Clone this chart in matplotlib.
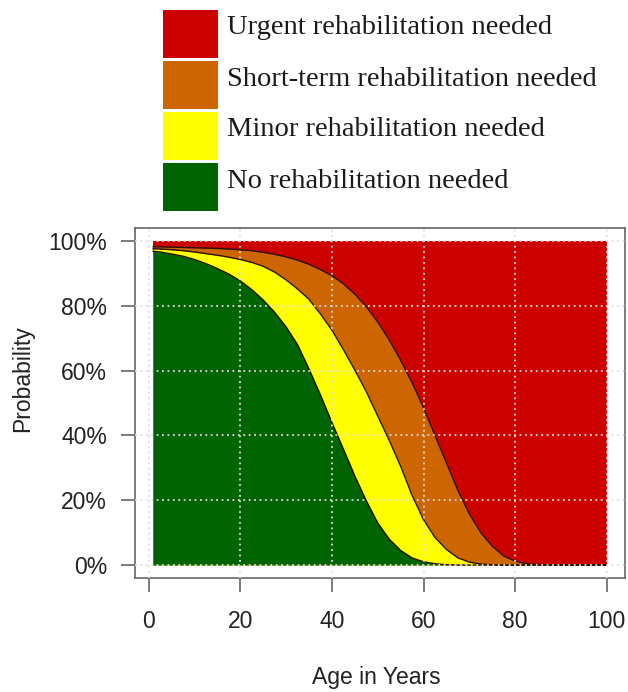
import matplotlib
matplotlib.use("Agg")
import matplotlib.pyplot as plt
from matplotlib.patches import Rectangle

# ---- data ----
ages = [1, 2.5, 5, 7.5, 10, 12.5, 15, 17.5, 20, 22.5, 25, 27.5, 30, 32.5, 35, 37.5, 40,
        42.5, 45, 47.5, 50, 52.5, 55, 57.5, 60, 62.5, 65, 67.5, 70, 72.5, 75, 77.5, 80,
        82.5, 85, 87.5, 90, 92.5, 95, 97.5, 100]
# cumulative probability: no rehabilitation needed
no_rehab = [96.8, 96.6, 96.0, 95.3, 94.3, 93.0, 91.5, 89.8, 87.7, 85.0, 81.8, 78.0, 73.5,
            68.0, 60.5, 52.5, 44.0, 35.8, 27.5, 19.8, 13.0, 8.0, 4.5, 2.2, 1.0, 0.4, 0.1,
            0, 0, 0, 0, 0, 0, 0, 0, 0, 0, 0, 0, 0, 0]
# cumulative: no + minor rehabilitation
minor_cum = [97.6, 97.5, 97.3, 97.0, 96.6, 96.1, 95.6, 95.0, 94.3, 93.4, 92.2, 90.4, 88.0,
             85.2, 82.0, 77.5, 72.5, 66.5, 60.2, 53.5, 46.0, 38.5, 30.5, 21.5, 14.0, 8.5,
             4.8, 2.2, 0.9, 0.3, 0.1, 0, 0, 0, 0, 0, 0, 0, 0, 0, 0]
# cumulative: no + minor + short-term rehabilitation
short_cum = [98.2, 98.2, 98.1, 98.0, 97.9, 97.8, 97.7, 97.5, 97.3, 97.0, 96.5, 95.9, 95.1,
             94.1, 92.8, 91.2, 89.3, 86.8, 83.6, 79.7, 75.0, 69.5, 63.2, 56.3, 48.5, 40.0,
             31.5, 23.0, 15.8, 10.0, 5.8, 2.8, 1.2, 0.4, 0.1, 0, 0, 0, 0, 0, 0]
total = [100.0] * len(ages)

labels = ["Urgent rehabilitation needed", "Short-term rehabilitation needed",
          "Minor rehabilitation needed", "No rehabilitation needed"]
colors = ["#CD0000", "#CD6600", "#FFFF00", "#006400"]

x_ticks = [0, 20, 40, 60, 80, 100]
y_ticks = [0, 20, 40, 60, 80, 100]
y_ticklabels = ["0%", "20%", "40%", "60%", "80%", "100%"]

W, H = 628, 692
fig = plt.figure(figsize=(W / 100, H / 100), dpi=100)
fig.patch.set_facecolor("white")

ax = fig.add_axes([135 / W, 1 - 578 / H, (625 - 135) / W, (578 - 228) / H])
ax.set_xlim(-2.96, 103.96)
ax.set_ylim(-4, 104)

zero = [0.0] * len(ages)
ax.fill_between(ages, zero, total, color=colors[0], lw=0, zorder=1)
ax.fill_between(ages, zero, short_cum, color=colors[1], lw=0, zorder=2)
ax.fill_between(ages, zero, minor_cum, color=colors[2], lw=0, zorder=3)
ax.fill_between(ages, zero, no_rehab, color=colors[3], lw=0, zorder=4)
edge = "#2a1200"
ax.plot(ages, short_cum, color=edge, lw=1.0, zorder=5)
ax.plot(ages, minor_cum, color=edge, lw=1.0, zorder=5)
ax.plot(ages, no_rehab, color=edge, lw=1.0, zorder=5)

# grid (dotted, drawn over the fills)
for gx in x_ticks:
    ax.axvline(gx, color="#dddddd", lw=1.3, ls=(0, (1, 2)), zorder=6)
for gy in y_ticks:
    ax.axhline(gy, color="#dddddd", lw=1.3, ls=(0, (1, 2)), zorder=6)

ax.set_xticks(x_ticks)
ax.set_yticks(y_ticks)
ax.set_yticklabels(y_ticklabels)
for s in ax.spines.values():
    s.set_color("#666666")
    s.set_linewidth(1.2)
ax.tick_params(axis="both", direction="out", length=10, width=1.2, color="#666666",
               labelsize=16.5, labelcolor="#222222")
ax.tick_params(axis="x", pad=13)
ax.tick_params(axis="y", pad=10)
for lab in ax.get_xticklabels() + ax.get_yticklabels():
    lab.set_family(["Liberation Sans", "DejaVu Sans"])

ax.set_xlabel("Age in Years", fontsize=16.5, color="#222222", family=["Liberation Sans", "DejaVu Sans"])
ax.set_ylabel("Probability", fontsize=16.5, color="#222222", family=["Liberation Sans", "DejaVu Sans"])
ax.xaxis.set_label_coords(0.492, -0.252)
ax.yaxis.set_label_coords(-0.205, 0.57)

# custom legend at the top
box_x0, box_x1 = 163, 218
top = 10
bh, step = 48, 51
for i, (lab, c) in enumerate(zip(labels, colors)):
    y0 = top + i * step
    fig.patches.append(Rectangle((box_x0 / W, 1 - (y0 + bh) / H), (box_x1 - box_x0) / W, bh / H,
                                 transform=fig.transFigure, facecolor=c, edgecolor="none"))
    fig.text(227 / W, 1 - (y0 + bh / 2 - 6) / H, lab, fontsize=20.5, color="#1a1a1a",
             family=["Liberation Serif", "DejaVu Serif"], ha="left", va="center")

fig.savefig("out.png", dpi=100, facecolor="white")
